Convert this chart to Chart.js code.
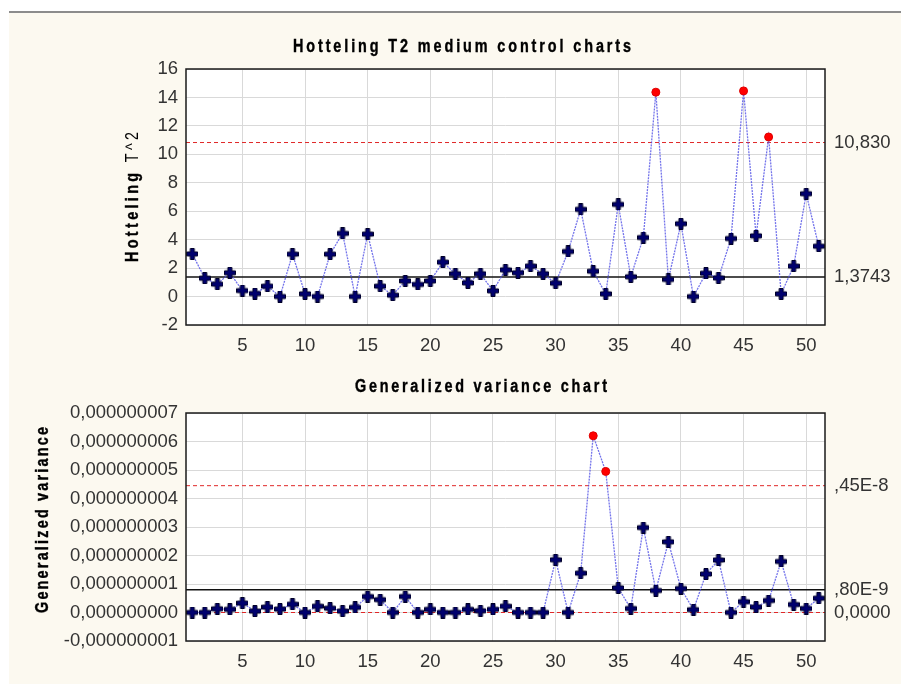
<!DOCTYPE html>
<html>
<head>
<meta charset="utf-8">
<script src="https://cdn.jsdelivr.net/npm/chart.js@4"></script>
<style>
  html, body { margin: 0; padding: 0; background: #fff; }
  #panel { position: absolute; left: 9px; top: 11px; width: 892px; height: 673px; background: #fcf9f0; border-top: 2px solid #8c8c8c; }
  .box { position: absolute; left: 0; }
  #box1 { top: 14px; }
  #box2 { top: 354px; }
</style>
</head>
<body>
<div id="panel"></div>
<div class="box" id="box1"><canvas id="t2Chart" width="901" height="340"></canvas></div>
<div class="box" id="box2"><canvas id="gvChart" width="901" height="330"></canvas></div>
<script>
const samples = [1, 2, 3, 4, 5, 6, 7, 8, 9, 10, 11, 12, 13, 14, 15, 16, 17, 18, 19, 20,
  21, 22, 23, 24, 25, 26, 27, 28, 29, 30, 31, 32, 33, 34, 35, 36, 37, 38, 39, 40,
  41, 42, 43, 44, 45, 46, 47, 48, 49, 50, 51];
const xTicks = [5, 10, 15, 20, 25, 30, 35, 40, 45, 50];
const xMin = 0.5;
const xMax = 51.5;

// Hotteling T2
const t2Values = [3.0, 1.29, 0.87, 1.67, 0.42, 0.21, 0.73, 0.0, 2.98, 0.19,
  0.0, 2.98, 4.44, 0.0, 4.39, 0.73, 0.1, 1.1, 0.85, 1.1,
  2.42, 1.6, 0.96, 1.6, 0.4, 1.88, 1.67, 2.14, 1.6, 0.94,
  3.17, 6.13, 1.78, 0.19, 6.48, 1.39, 4.15, 14.37, 1.2, 5.12,
  0.0, 1.64, 1.31, 4.08, 14.46, 4.27, 11.22, 0.19, 2.14, 7.23, 3.54];
const t2UCL = 10.83;
const t2Center = 1.3743;
const t2YTicks = [-2, 0, 2, 4, 6, 8, 10, 12, 14, 16];
const t2LimitValues = [t2UCL, t2Center];
const t2LimitLabels = ["10,830", "1,3743"];

// Generalized variance
const gvValues = [0, 0, 0.13e-9, 0.11e-9, 0.33e-9, 0.05e-9, 0.19e-9, 0.12e-9, 0.29e-9, 0,
  0.22e-9, 0.15e-9, 0.05e-9, 0.18e-9, 0.56e-9, 0.45e-9, 0, 0.56e-9, 0, 0.11e-9,
  0, 0, 0.11e-9, 0.06e-9, 0.11e-9, 0.22e-9, 0, 0, 0, 1.85e-9,
  0, 1.38e-9, 6.2e-9, 4.95e-9, 0.86e-9, 0.14e-9, 2.98e-9, 0.77e-9, 2.48e-9, 0.84e-9,
  0.1e-9, 1.35e-9, 1.84e-9, 0, 0.38e-9, 0.19e-9, 0.42e-9, 1.79e-9, 0.28e-9, 0.14e-9, 0.5e-9];
const gvUCL = 4.45e-9;
const gvCenter = 0.8e-9;
const gvLCL = 0;
const gvYTicks = [-1e-9, 0, 1e-9, 2e-9, 3e-9, 4e-9, 5e-9, 6e-9, 7e-9];
const gvLimitValues = [gvUCL, gvCenter, gvLCL];
const gvLimitLabels = [",45E-8", ",80E-9", "0,0000"];

const FONT = '"Liberation Sans", Arial, sans-serif';
Chart.defaults.font.family = FONT;
Chart.defaults.font.size = 18.5;
Chart.defaults.color = "#333";

// thick navy plus marker
const plusMarker = document.createElement("canvas");
plusMarker.width = 12;
plusMarker.height = 12;
(() => {
  const c = plusMarker.getContext("2d");
  c.beginPath();
  c.moveTo(4, 0.5); c.lineTo(8, 0.5); c.lineTo(8, 4); c.lineTo(11.5, 4);
  c.lineTo(11.5, 8); c.lineTo(8, 8); c.lineTo(8, 11.5); c.lineTo(4, 11.5);
  c.lineTo(4, 8); c.lineTo(0.5, 8); c.lineTo(0.5, 4); c.lineTo(4, 4);
  c.closePath();
  c.fillStyle = "#00006e";
  c.fill();
  c.strokeStyle = "#000028";
  c.lineWidth = 1;
  c.stroke();
})();

// condensed, letter-spaced text centred at 0,0 and spread to a given width
function spacedText(ctx, parts, width) {
  const sx = 0.8;
  const fontOf = p => (p.bold ? "bold " : "") + "18px " + FONT;
  ctx.scale(sx, 1);
  const w = width / sx;
  ctx.letterSpacing = "0px";
  let raw = 0, chars = 0;
  parts.forEach(p => {
    ctx.font = fontOf(p);
    raw += ctx.measureText(p.text).width;
    chars += p.text.length;
  });
  const gap = Math.max(0, (w - raw) / Math.max(1, chars - 1));
  ctx.letterSpacing = gap + "px";
  ctx.textAlign = "left";
  ctx.strokeStyle = "#000";
  ctx.lineWidth = 0.4;
  let x = -w / 2;
  parts.forEach(p => {
    ctx.font = fontOf(p);
    ctx.fillText(p.text, x, 0);
    if (p.bold) ctx.strokeText(p.text, x, 0);
    x += ctx.measureText(p.text).width;
  });
}

const framePlugin = {
  id: "frame",
  beforeDraw(chart) {
    const { ctx, chartArea: a } = chart;
    ctx.save();
    ctx.fillStyle = "#fff";
    ctx.fillRect(a.left, a.top, a.right - a.left, a.bottom - a.top);
    ctx.restore();
  },
  afterDraw(chart, args, opts) {
    const { ctx, chartArea: a } = chart;
    ctx.save();
    ctx.strokeStyle = "#1a1a1a";
    ctx.lineWidth = 1.5;
    ctx.strokeRect(a.left, a.top, a.right - a.left, a.bottom - a.top);

    ctx.fillStyle = "#000";
    ctx.textBaseline = "middle";
    ctx.save();
    ctx.translate(opts.titleX, opts.titleY);
    spacedText(ctx, [{ text: opts.title, bold: true }], opts.titleWidth);
    ctx.restore();

    ctx.translate(opts.yTitleX, opts.yTitleY);
    ctx.rotate(-Math.PI / 2);
    spacedText(ctx, opts.yTitle, opts.yTitleWidth);
    ctx.restore();
  }
};

function seriesDataset(values, ucl) {
  const out = v => v > ucl;
  return {
    data: samples.map((s, i) => ({ x: s, y: values[i] })),
    borderColor: "rgba(80,80,230,0.8)",
    borderWidth: 1.3,
    borderDash: [2, 1],
    pointStyle: c => (c.raw && out(c.raw.y)) ? "circle" : plusMarker,
    pointRadius: 4,
    pointBackgroundColor: c => (c.raw && out(c.raw.y)) ? "#ff0000" : "#00006e",
    pointBorderColor: c => (c.raw && out(c.raw.y)) ? "#e00000" : "#000028",
    pointBorderWidth: 1,
    order: 0
  };
}

function limitDataset(value, color, dash, width) {
  return {
    data: [{ x: xMin, y: value }, { x: xMax, y: value }],
    borderColor: color,
    borderDash: dash,
    borderWidth: width,
    pointRadius: 0,
    order: 1
  };
}

function buildConfig(o) {
  return {
    type: "line",
    data: { datasets: o.datasets },
    options: {
      responsive: false,
      animation: false,
      layout: { padding: { top: o.padTop, left: 0, right: 0, bottom: 0 } },
      plugins: {
        legend: { display: false },
        tooltip: { enabled: false },
        frame: o.frame
      },
      scales: {
        x: {
          type: "linear", min: xMin, max: xMax,
          afterBuildTicks: ax => { ax.ticks = xTicks.map(v => ({ value: v })); },
          afterFit: ax => { ax.height = o.xHeight; },
          grid: { color: "#d9d9d9", drawTicks: false },
          border: { display: false },
          ticks: { padding: 10, maxRotation: 0, autoSkip: false, callback: v => String(v) }
        },
        y: {
          min: o.yMin, max: o.yMax,
          afterBuildTicks: ax => { ax.ticks = o.yTicks.map(v => ({ value: v })); },
          afterFit: ax => { ax.width = 186; },
          grid: { color: "#d9d9d9", drawTicks: false },
          border: { display: false },
          ticks: { padding: 8, autoSkip: false, callback: o.yFormat }
        },
        y2: {
          position: "right",
          min: o.yMin, max: o.yMax,
          afterBuildTicks: ax => { ax.ticks = o.limitValues.map(v => ({ value: v })); },
          afterFit: ax => { ax.width = 76; },
          grid: { display: false, drawTicks: false },
          border: { display: false },
          ticks: { padding: 9, autoSkip: false, callback: (v, i) => o.limitLabels[i] }
        }
      }
    },
    plugins: [framePlugin]
  };
}

new Chart(document.getElementById("t2Chart"), buildConfig({
  datasets: [
    seriesDataset(t2Values, t2UCL),
    limitDataset(t2UCL, "#e02828", [4, 3], 1),
    limitDataset(t2Center, "#111", [], 1.5)
  ],
  padTop: 55, xHeight: 29,
  yMin: -2, yMax: 16, yTicks: t2YTicks,
  yFormat: v => String(v),
  limitValues: t2LimitValues, limitLabels: t2LimitLabels,
  frame: {
    title: "Hotteling T2 medium control charts", titleX: 462, titleY: 33, titleWidth: 338,
    yTitle: [{ text: "Hotteling", bold: true }, { text: " T^2", bold: false }],
    yTitleX: 133, yTitleY: 183, yTitleWidth: 130
  }
}));

new Chart(document.getElementById("gvChart"), buildConfig({
  datasets: [
    seriesDataset(gvValues, gvUCL),
    limitDataset(gvUCL, "#e02828", [4, 3], 1),
    limitDataset(gvLCL, "#e02828", [4, 3], 1),
    limitDataset(gvCenter, "#111", [], 1.5)
  ],
  padTop: 59, xHeight: 43,
  yMin: -1e-9, yMax: 7e-9, yTicks: gvYTicks,
  yFormat: v => v.toFixed(9).replace(".", ","),
  limitValues: gvLimitValues, limitLabels: gvLimitLabels,
  frame: {
    title: "Generalized variance chart", titleX: 481, titleY: 33, titleWidth: 252,
    yTitle: [{ text: "Generalized variance", bold: true }],
    yTitleX: 43, yTitleY: 166, yTitleWidth: 186
  }
}));
</script>
</body>
</html>
